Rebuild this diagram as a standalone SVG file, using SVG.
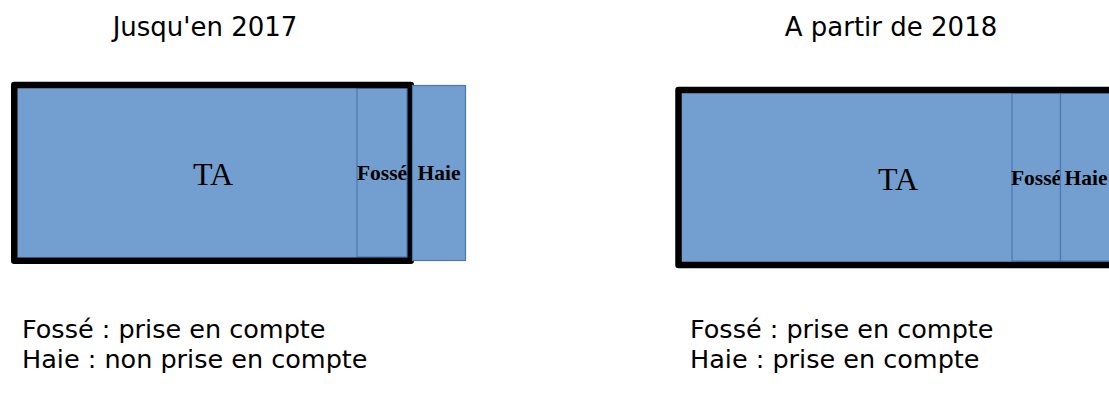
<svg xmlns="http://www.w3.org/2000/svg" width="1109" height="394" viewBox="0 0 1109 394">
<style>
.bg{fill:#ffffff}
.area{fill:#729fcf;stroke:none}
.strip{fill:#729fcf;stroke:#4a78b4;stroke-width:1.2}
.frame{fill:none;stroke:#000000;stroke-width:6.5;stroke-linejoin:round}
.head{font-family:"DejaVu Sans",sans-serif;font-size:26px;fill:#000}
.note{font-family:"DejaVu Sans",sans-serif;font-size:25.5px;fill:#000}
.ta{font-family:"Liberation Serif",serif;font-size:32px;fill:#000;text-anchor:middle}
.lbl{font-family:"Liberation Serif",serif;font-size:21.5px;font-weight:bold;fill:#000;text-anchor:middle}
</style>
<rect class="bg" x="0" y="0" width="1109" height="394"/>
<g id="left">
  <text class="head" x="205" y="36" text-anchor="middle">Jusqu'en 2017</text>
  <g id="left-ta">
    <rect class="area" x="14" y="85" width="396" height="176"/>
    <text class="ta" x="213" y="185">TA</text>
  </g>
  <g id="left-fosse">
    <rect class="strip" x="357" y="88" width="50" height="169"/>
    <text class="lbl" x="382" y="180">Fossé</text>
  </g>
  <rect class="frame" x="14.25" y="85" width="396.5" height="175.75"/>
  <g id="left-haie">
    <rect class="strip" x="412.5" y="85.5" width="53" height="175"/>
    <text class="lbl" x="439" y="180">Haie</text>
  </g>
  <text class="note" x="22" y="338">Fossé : prise en compte</text>
  <text class="note" x="22" y="368">Haie : non prise en compte</text>
</g>
<g id="right">
  <text class="head" x="891" y="36" text-anchor="middle">A partir de 2018</text>
  <g id="right-ta">
    <rect class="area" x="679" y="90" width="440" height="175"/>
    <text class="ta" x="898" y="190">TA</text>
  </g>
  <g id="right-fosse">
    <rect class="strip" x="1012" y="93" width="48.5" height="168"/>
    <text class="lbl" x="1036" y="185">Fossé</text>
  </g>
  <g id="right-haie">
    <rect class="strip" x="1060.5" y="93" width="60" height="168"/>
    <text class="lbl" x="1086" y="185">Haie</text>
  </g>
  <rect class="frame" x="678.5" y="90" width="445" height="175"/>
  <text class="note" x="690" y="338">Fossé : prise en compte</text>
  <text class="note" x="690" y="368">Haie : prise en compte</text>
</g>
<g id="connectors"></g>
</svg>
